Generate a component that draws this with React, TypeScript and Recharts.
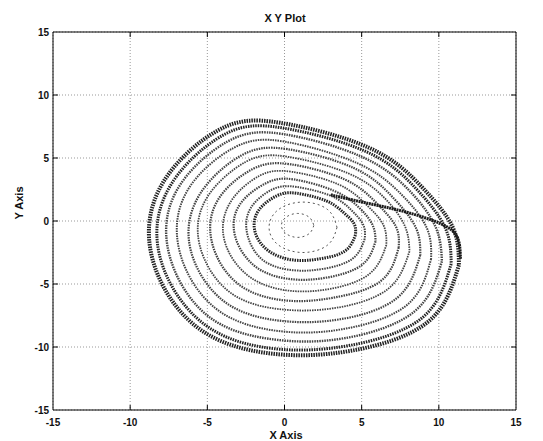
import { LineChart, Line, XAxis, YAxis, CartesianGrid, ReferenceArea } from "recharts";

// axis ticks
const xTicks = [-15, -10, -5, 0, 5, 10, 15];
const yTicks = [-15, -10, -5, 0, 5, 10, 15];

// orbit rings, inner (hole edge) to outer edge
const loop0: [number, number][] = [[4.6, -1.1], [3.9, -2.4], [2.3, -3.0], [0.6, -3.1], [-1.0, -2.4], [-1.9, -0.9], [-1.7, 0.8], [-0.5, 2.0], [0.8, 2.2], [2.7, 1.6], [3.8, 0.7], [4.5, -0.2]];
const loop1: [number, number][] = [[5.2, -1.4], [4.4, -3.0], [2.5, -3.8], [0.5, -3.9], [-1.4, -3.1], [-2.4, -1.1], [-2.2, 1.0], [-0.8, 2.5], [0.8, 2.7], [3.0, 2.0], [4.3, 0.9], [5.1, -0.3]];
const loop2: [number, number][] = [[5.9, -1.6], [5.0, -3.5], [2.7, -4.5], [0.3, -4.6], [-1.9, -3.6], [-3.2, -1.2], [-2.9, 1.3], [-1.2, 3.0], [0.6, 3.3], [3.2, 2.4], [4.8, 1.1], [5.7, -0.3]];
const loop3: [number, number][] = [[6.6, -1.9], [5.5, -4.2], [2.9, -5.4], [0.1, -5.5], [-2.4, -4.3], [-3.9, -1.5], [-3.5, 1.5], [-1.6, 3.6], [0.5, 3.9], [3.5, 2.9], [5.3, 1.3], [6.4, -0.3]];
const loop4: [number, number][] = [[7.4, -2.1], [6.2, -4.8], [3.1, -6.1], [0.0, -6.3], [-3.0, -5.0], [-4.7, -1.7], [-4.3, 1.7], [-2.1, 4.1], [0.4, 4.5], [3.9, 3.3], [5.9, 1.5], [7.2, -0.4]];
const loop5: [number, number][] = [[8.1, -2.4], [6.7, -5.4], [3.3, -6.9], [-0.3, -7.0], [-3.6, -5.6], [-5.5, -1.9], [-5.0, 1.9], [-2.5, 4.7], [0.2, 5.1], [4.1, 3.8], [6.5, 1.8], [7.8, -0.4]];
const loop6: [number, number][] = [[8.8, -2.7], [7.3, -6.1], [3.6, -7.8], [-0.4, -7.9], [-4.0, -6.3], [-6.1, -2.2], [-5.5, 2.1], [-2.8, 5.2], [0.2, 5.7], [4.5, 4.2], [7.0, 1.9], [8.5, -0.5]];
const loop7: [number, number][] = [[9.5, -3.0], [7.9, -6.7], [3.7, -8.6], [-0.6, -8.7], [-4.5, -6.9], [-6.8, -2.4], [-6.3, 2.4], [-3.3, 5.8], [0.0, 6.3], [4.7, 4.6], [7.5, 2.2], [9.2, -0.5]];
const loop8: [number, number][] = [[10.2, -3.2], [8.4, -7.2], [3.9, -9.3], [-0.7, -9.4], [-5.0, -7.5], [-7.5, -2.5], [-6.9, 2.6], [-3.7, 6.3], [-0.1, 6.9], [5.0, 5.1], [8.1, 2.4], [9.8, -0.5]];
const loop9: [number, number][] = [[10.8, -3.4], [8.9, -7.7], [4.1, -9.9], [-0.9, -10.1], [-5.4, -8.0], [-8.1, -2.7], [-7.4, 2.8], [-4.0, 6.8], [-0.2, 7.4], [5.3, 5.5], [8.5, 2.6], [10.4, -0.5]];
const loop10: [number, number][] = [[11.3, -3.5], [9.3, -8.0], [4.3, -10.3], [-1.0, -10.5], [-5.8, -8.3], [-8.6, -2.8], [-7.9, 3.0], [-4.3, 7.2], [-0.3, 7.8], [5.5, 5.8], [8.9, 2.7], [10.9, -0.5]];

// the dark fold running from the hole out to the right edge
const foldBand: [number, number][] = [[3.0, 2.1], [3.6, 1.9], [5.8, 1.3], [7.9, 0.7], [10.1, -0.2], [11.2, -1.3], [11.4, -3.0]];

// faint dashed rings inside the hole
const innerSmall: [number, number][] = [[1.9, -0.35], [1.6, -1.0], [0.85, -1.3], [0.1, -1.0], [-0.2, -0.35], [0.1, 0.3], [0.85, 0.6], [1.6, 0.3]];
const innerMid: [number, number][] = [[3.4, -0.5], [2.8, -1.9], [1.2, -2.5], [-0.4, -1.9], [-1.0, -0.5], [-0.4, 0.9], [1.2, 1.5], [2.8, 0.9]];

const rings = [loop0, loop1, loop2, loop3, loop4, loop5, loop6, loop7, loop8, loop9, loop10];
const ringWidths = [3, 2, 2.2, 1.8, 2.2, 1.8, 2.2, 2, 2.4, 3, 4];

const toPoints = (pts: [number, number][]) => pts.map(([x, y]) => ({ x, y }));
const closeLoop = (pts: [number, number][]) => toPoints([...pts, pts[0]]);

const FONT = "'Liberation Sans', Arial, sans-serif";
const PLOT_W = 463;
const PLOT_H = 378;

function XTick({ x, y, payload }: any) {
  const edge = payload.value === -15 || payload.value === 15;
  return (
    <g>
      {!edge && <line x1={x} y1={y} x2={x} y2={y - 5} stroke="#000" />}
      {!edge && <line x1={x} y1={y - PLOT_H} x2={x} y2={y - PLOT_H + 5} stroke="#000" />}
      <text x={x} y={y + 16} textAnchor="middle" fontSize={10} fontWeight="bold" fill="#111" fontFamily={FONT}>
        {payload.value}
      </text>
    </g>
  );
}

function YTick({ x, y, payload }: any) {
  const edge = payload.value === -15 || payload.value === 15;
  return (
    <g>
      {!edge && <line x1={x} y1={y} x2={x + 5} y2={y} stroke="#000" />}
      {!edge && <line x1={x + PLOT_W} y1={y} x2={x + PLOT_W - 5} y2={y} stroke="#000" />}
      <text x={x - 4} y={y + 3.5} textAnchor="end" fontSize={10} fontWeight="bold" fill="#111" fontFamily={FONT}>
        {payload.value}
      </text>
    </g>
  );
}

export default function App() {
  return (
    <div style={{ position: "absolute", left: 0, top: 0, width: 543, height: 441, background: "#fff" }}>
      <div
        style={{
          position: "absolute",
          left: 185,
          top: 11,
          width: 200,
          textAlign: "center",
          fontFamily: FONT,
          fontSize: 11,
          fontWeight: "bold",
          lineHeight: "14px",
          color: "#111",
        }}
      >
        X Y Plot
      </div>
      <LineChart width={543} height={441} margin={{ top: 32, right: 27, left: 0, bottom: 0 }}>
        <CartesianGrid stroke="#999" strokeDasharray="1 2" />
        <XAxis
          type="number"
          dataKey="x"
          domain={[-15, 15]}
          ticks={xTicks}
          allowDataOverflow
          height={31}
          tickSize={0}
          tickMargin={0}
          axisLine={false}
          tickLine={false}
          tick={<XTick />}
          label={{
            content: () => (
              <text x={286} y={439} textAnchor="middle" fontSize={11} fontWeight="bold" fill="#111" fontFamily={FONT}>
                X Axis
              </text>
            ),
          }}
        />
        <YAxis
          type="number"
          dataKey="y"
          domain={[-15, 15]}
          ticks={yTicks}
          allowDataOverflow
          width={53}
          tickSize={0}
          tickMargin={0}
          axisLine={false}
          tickLine={false}
          tick={<YTick />}
          label={{
            content: () => (
              <text
                x={23}
                y={203}
                transform="rotate(-90 23 203)"
                textAnchor="middle"
                fontSize={11}
                fontWeight="bold"
                fill="#111"
                fontFamily={FONT}
              >
                Y Axis
              </text>
            ),
          }}
        />
        <ReferenceArea x1={-15} x2={15} y1={-15} y2={15} fill="none" stroke="#000" strokeWidth={1} />
        {rings.map((ring, i) => (
          <Line
            key={`ring-${i}`}
            data={closeLoop(ring)}
            dataKey="y"
            type="natural"
            stroke={i >= 9 || i === 0 ? "#222" : "#444"}
            strokeWidth={ringWidths[i]}
            strokeDasharray="1.5 1"
            dot={false}
            activeDot={false}
            isAnimationActive={false}
          />
        ))}
        <Line
          data={toPoints(foldBand)}
          dataKey="y"
          type="natural"
          stroke="#1a1a1a"
          strokeWidth={3}
          strokeDasharray="2 0.6"
          dot={false}
          activeDot={false}
          isAnimationActive={false}
        />
        {[innerSmall, innerMid].map((ring, i) => (
          <Line
            key={`inner-${i}`}
            data={closeLoop(ring)}
            dataKey="y"
            type="natural"
            stroke="#555"
            strokeWidth={1}
            strokeDasharray="2 3"
            dot={false}
            activeDot={false}
            isAnimationActive={false}
          />
        ))}
      </LineChart>
    </div>
  );
}
